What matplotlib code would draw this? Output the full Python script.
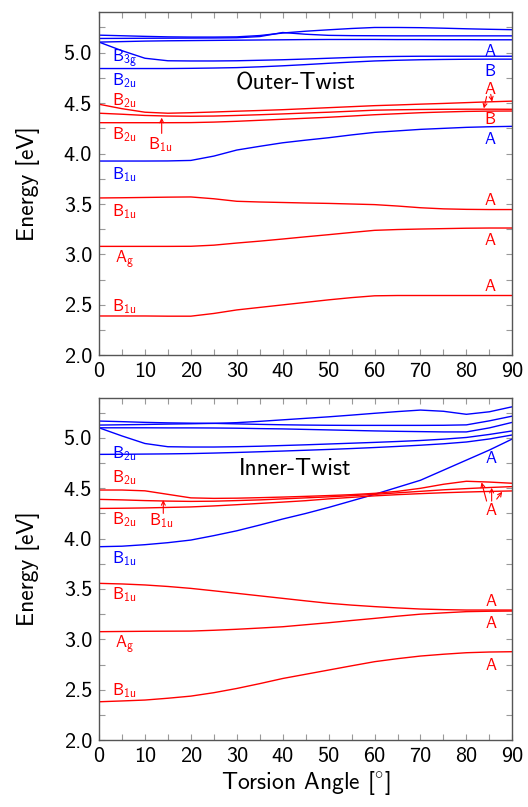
import matplotlib
matplotlib.use("Agg")
import matplotlib.pyplot as plt
from matplotlib.ticker import MultipleLocator

plt.rcParams['font.family'] = ['cmss10', 'DejaVu Sans']
plt.rcParams['mathtext.fontset'] = 'custom'
plt.rcParams['mathtext.rm'] = 'cmss10'
plt.rcParams['mathtext.it'] = 'cmss10'
plt.rcParams['mathtext.sf'] = 'cmss10'
plt.rcParams['axes.unicode_minus'] = False
plt.rcParams['axes.formatter.use_mathtext'] = False

# ---------------- data ----------------
angles = [0, 5, 10, 15, 20, 25, 30, 35, 40, 45, 50, 55, 60, 65, 70, 75, 80, 85, 90]

# Outer-Twist
outer_blue_1 = [5.174, 5.168, 5.162, 5.157, 5.155, 5.155, 5.157, 5.170, 5.195, 5.213, 5.227, 5.240, 5.250, 5.250, 5.248, 5.243, 5.237, 5.232, 5.228]
outer_blue_2 = [5.141, 5.142, 5.143, 5.144, 5.145, 5.146, 5.148, 5.160, 5.200, 5.183, 5.172, 5.169, 5.168, 5.167, 5.167, 5.167, 5.167, 5.167, 5.167]
outer_blue_3 = [5.105, 5.110, 5.115, 5.118, 5.120, 5.122, 5.124, 5.126, 5.128, 5.130, 5.131, 5.131, 5.131, 5.130, 5.130, 5.129, 5.129, 5.128, 5.128]
outer_blue_b3g = [5.105, 5.020, 4.945, 4.920, 4.918, 4.918, 4.920, 4.925, 4.930, 4.937, 4.945, 4.953, 4.960, 4.963, 4.965, 4.965, 4.965, 4.965, 4.965]
outer_blue_b2u = [4.843, 4.843, 4.843, 4.843, 4.845, 4.848, 4.852, 4.860, 4.870, 4.882, 4.895, 4.907, 4.918, 4.925, 4.930, 4.933, 4.935, 4.936, 4.936]
outer_blue_b1u = [3.926, 3.926, 3.926, 3.927, 3.932, 3.975, 4.035, 4.072, 4.107, 4.133, 4.157, 4.185, 4.210, 4.225, 4.240, 4.250, 4.260, 4.266, 4.270]
outer_red_1 = [4.489, 4.445, 4.410, 4.400, 4.405, 4.412, 4.420, 4.427, 4.435, 4.445, 4.455, 4.465, 4.475, 4.482, 4.490, 4.497, 4.505, 4.513, 4.520]
outer_red_2 = [4.400, 4.390, 4.378, 4.372, 4.370, 4.372, 4.378, 4.385, 4.393, 4.402, 4.410, 4.420, 4.430, 4.434, 4.437, 4.439, 4.440, 4.440, 4.439]
outer_red_3 = [4.306, 4.306, 4.306, 4.306, 4.307, 4.312, 4.320, 4.330, 4.340, 4.350, 4.360, 4.372, 4.385, 4.395, 4.405, 4.412, 4.418, 4.421, 4.422]
outer_red_4 = [3.560, 3.562, 3.565, 3.568, 3.570, 3.552, 3.527, 3.520, 3.515, 3.510, 3.506, 3.500, 3.494, 3.480, 3.463, 3.452, 3.447, 3.445, 3.445]
outer_red_5 = [3.080, 3.080, 3.080, 3.080, 3.081, 3.092, 3.113, 3.132, 3.153, 3.175, 3.196, 3.218, 3.239, 3.247, 3.252, 3.256, 3.260, 3.262, 3.262]
outer_red_6 = [2.390, 2.390, 2.390, 2.388, 2.388, 2.415, 2.450, 2.475, 2.500, 2.525, 2.550, 2.572, 2.590, 2.593, 2.593, 2.593, 2.593, 2.593, 2.593]

# Inner-Twist
inner_blue_1 = [5.128, 5.131, 5.134, 5.138, 5.141, 5.145, 5.152, 5.165, 5.180, 5.195, 5.210, 5.227, 5.245, 5.262, 5.277, 5.265, 5.235, 5.260, 5.310]
inner_blue_2 = [5.168, 5.162, 5.155, 5.150, 5.147, 5.145, 5.140, 5.135, 5.131, 5.128, 5.126, 5.125, 5.125, 5.125, 5.125, 5.126, 5.130, 5.170, 5.217]
inner_blue_3 = [5.101, 5.101, 5.101, 5.100, 5.100, 5.099, 5.097, 5.093, 5.090, 5.085, 5.080, 5.075, 5.070, 5.066, 5.063, 5.060, 5.060, 5.100, 5.155]
inner_blue_b2u_a = [5.101, 5.020, 4.945, 4.913, 4.910, 4.910, 4.913, 4.918, 4.925, 4.932, 4.940, 4.948, 4.956, 4.965, 4.975, 4.988, 5.005, 5.035, 5.070]
inner_blue_b2u_b = [4.837, 4.838, 4.840, 4.842, 4.845, 4.850, 4.856, 4.863, 4.870, 4.878, 4.886, 4.895, 4.905, 4.916, 4.928, 4.942, 4.960, 4.990, 5.030]
inner_blue_b1u = [3.920, 3.925, 3.940, 3.960, 3.986, 4.030, 4.078, 4.135, 4.195, 4.250, 4.310, 4.375, 4.440, 4.510, 4.580, 4.680, 4.780, 4.880, 4.990]
inner_red_1 = [4.483, 4.483, 4.475, 4.440, 4.405, 4.400, 4.402, 4.407, 4.413, 4.420, 4.428, 4.437, 4.450, 4.470, 4.500, 4.540, 4.570, 4.562, 4.550]
inner_red_2 = [4.390, 4.385, 4.378, 4.373, 4.370, 4.372, 4.378, 4.385, 4.395, 4.405, 4.415, 4.427, 4.440, 4.455, 4.470, 4.485, 4.497, 4.508, 4.517]
inner_red_3 = [4.300, 4.302, 4.305, 4.310, 4.315, 4.325, 4.337, 4.350, 4.363, 4.377, 4.395, 4.410, 4.425, 4.437, 4.447, 4.456, 4.463, 4.469, 4.474]
inner_red_4 = [3.556, 3.550, 3.540, 3.525, 3.506, 3.482, 3.457, 3.432, 3.407, 3.382, 3.358, 3.340, 3.325, 3.312, 3.301, 3.295, 3.291, 3.291, 3.291]
inner_red_5 = [3.076, 3.078, 3.080, 3.081, 3.082, 3.090, 3.100, 3.112, 3.125, 3.145, 3.165, 3.187, 3.208, 3.230, 3.250, 3.263, 3.275, 3.279, 3.281]
inner_red_6 = [2.380, 2.388, 2.397, 2.415, 2.436, 2.470, 2.512, 2.560, 2.611, 2.653, 2.695, 2.737, 2.778, 2.808, 2.834, 2.852, 2.867, 2.874, 2.877]

outer_blue = [outer_blue_1, outer_blue_2, outer_blue_3, outer_blue_b3g, outer_blue_b2u, outer_blue_b1u]
outer_red = [outer_red_1, outer_red_2, outer_red_3, outer_red_4, outer_red_5, outer_red_6]
inner_blue = [inner_blue_1, inner_blue_2, inner_blue_3, inner_blue_b2u_a, inner_blue_b2u_b, inner_blue_b1u]
inner_red = [inner_red_1, inner_red_2, inner_red_3, inner_red_4, inner_red_5, inner_red_6]

# labels: (text, x, y, color, ha)
outer_labels = [
    (r'B$_\mathrm{3g}$', 2.8, 4.910, 'blue', 'left'),
    (r'B$_\mathrm{2u}$', 2.8, 4.675, 'blue', 'left'),
    (r'B$_\mathrm{2u}$', 2.8, 4.485, 'red', 'left'),
    (r'B$_\mathrm{2u}$', 2.8, 4.140, 'red', 'left'),
    (r'B$_\mathrm{1u}$', 10.7, 4.048, 'red', 'left'),
    (r'B$_\mathrm{1u}$', 2.8, 3.750, 'blue', 'left'),
    (r'B$_\mathrm{1u}$', 2.8, 3.385, 'red', 'left'),
    (r'A$_\mathrm{g}$', 3.5, 2.915, 'red', 'left'),
    (r'B$_\mathrm{1u}$', 2.8, 2.440, 'red', 'left'),
    ('A', 85.1, 4.968, 'blue', 'center'),
    ('B', 85.1, 4.770, 'blue', 'center'),
    ('A', 85.1, 4.587, 'red', 'center'),
    ('B', 85.1, 4.290, 'red', 'center'),
    ('A', 85.1, 4.097, 'blue', 'center'),
    ('A', 85.1, 3.494, 'red', 'center'),
    ('A', 85.1, 3.089, 'red', 'center'),
    ('A', 85.1, 2.639, 'red', 'center'),
]
inner_labels = [
    (r'B$_\mathrm{2u}$', 2.8, 4.797, 'blue', 'left'),
    (r'B$_\mathrm{2u}$', 2.8, 4.559, 'red', 'left'),
    (r'B$_\mathrm{2u}$', 2.8, 4.142, 'red', 'left'),
    (r'B$_\mathrm{1u}$', 10.9, 4.135, 'red', 'left'),
    (r'B$_\mathrm{1u}$', 2.8, 3.755, 'blue', 'left'),
    (r'B$_\mathrm{1u}$', 2.8, 3.397, 'red', 'left'),
    (r'A$_\mathrm{g}$', 3.5, 2.910, 'red', 'left'),
    (r'B$_\mathrm{1u}$', 2.8, 2.447, 'red', 'left'),
    ('A', 85.3, 4.748, 'blue', 'center'),
    ('A', 85.3, 4.234, 'red', 'center'),
    ('A', 85.3, 3.331, 'red', 'center'),
    ('A', 85.3, 3.109, 'red', 'center'),
    ('A', 85.3, 2.695, 'red', 'center'),
]
# arrows: (tail_x, tail_y, tip_x, tip_y)
outer_arrows = [(13.65, 4.200, 13.65, 4.356), (85.3, 4.587, 85.6, 4.515), (84.4, 4.565, 83.8, 4.448)]
inner_arrows = [(14.0, 4.251, 14.0, 4.383), (84.4, 4.373, 83.3, 4.559), (85.5, 4.373, 85.5, 4.505), (86.6, 4.393, 87.8, 4.466)]

panel_titles = ['Outer-Twist', 'Inner-Twist']

# ---------------- figure ----------------
fig = plt.figure(figsize=(5.28, 8.07), dpi=100)
ax_top = fig.add_axes([0.1875, 0.5597, 0.7828, 0.4250])
ax_bot = fig.add_axes([0.1875, 0.0830, 0.7828, 0.4242])

panels = [
    (ax_top, outer_blue, outer_red, outer_labels, outer_arrows, panel_titles[0]),
    (ax_bot, inner_blue, inner_red, inner_labels, inner_arrows, panel_titles[1]),
]

for ax, blues, reds, labels, arrows, title in panels:
    for s in blues:
        ax.plot(angles, s, color='blue', lw=1.0)
    for s in reds:
        ax.plot(angles, s, color='red', lw=1.0)
    for txt, x, y, c, ha in labels:
        ax.text(x, y, txt, color=c, ha=ha, va='baseline', fontsize=12)
    for tx, ty, hx, hy in arrows:
        ax.annotate('', xy=(hx, hy), xytext=(tx, ty),
                    arrowprops=dict(arrowstyle='->', color='red', lw=0.8,
                                    shrinkA=0, shrinkB=0, mutation_scale=7))
    ax.text(42.7, 4.69, title, ha='center', va='center', fontsize=17, color='black')
    ax.set_xlim(0, 90)
    ax.set_ylim(2.0, 5.4)
    ax.xaxis.set_major_locator(MultipleLocator(10))
    ax.xaxis.set_minor_locator(MultipleLocator(5))
    ax.yaxis.set_major_locator(MultipleLocator(0.5))
    ax.yaxis.set_minor_locator(MultipleLocator(0.25))
    ax.set_yticks([2.0, 2.5, 3.0, 3.5, 4.0, 4.5, 5.0])
    ax.set_yticklabels(['2.0', '2.5', '3.0', '3.5', '4.0', '4.5', '5.0'])
    ax.tick_params(which='both', direction='in', top=True, right=True,
                   length=4.5, width=0.8, color='#999999', labelsize=16, pad=5)
    for sp in ax.spines.values():
        sp.set_color('#555555')
        sp.set_linewidth(1.0)
    ax.set_ylabel('Energy [eV]', fontsize=17, labelpad=17)

ax_bot.set_xlabel(r'Torsion Angle [$^{\circ}$]', fontsize=17, labelpad=2)

fig.savefig('out.png', dpi=100)
